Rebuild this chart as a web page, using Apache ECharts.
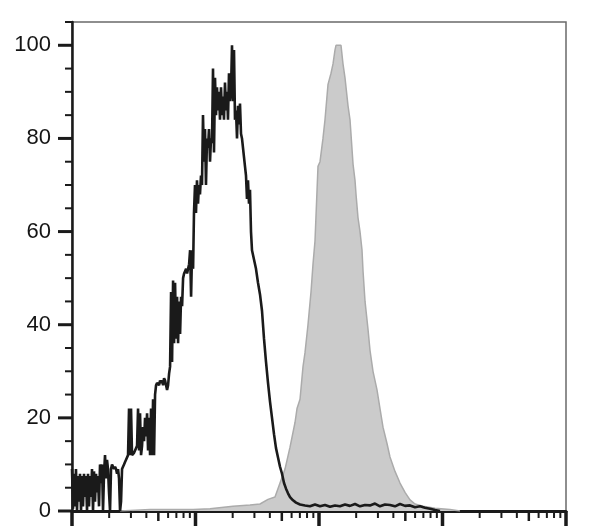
<!DOCTYPE html>
<html><head><meta charset="utf-8">
<script src="https://cdn.jsdelivr.net/npm/echarts@6/dist/echarts.min.js"></script>
<style>html,body{margin:0;padding:0;background:#fff}#c{width:590px;height:529px}</style>
</head><body><div id="c"></div>
<script>
// Black (unfilled) histogram: channel values and % of max
const blackX = [1.000,1.019,1.038,1.058,1.077,1.098,1.118,1.139,1.161,1.183,1.205,1.228,1.251,1.274,1.298,1.323,1.348,1.373,1.399,1.425,1.452,1.480,1.507,1.536,1.565,1.594,1.624,1.655,1.686,1.718,1.750,1.783,1.817,1.851,1.886,1.921,1.957,1.994,2.032,2.070,2.109,2.149,2.189,2.231,2.273,2.315,2.359,2.403,2.449,2.495,2.542,2.589,2.638,2.688,2.739,2.790,2.843,2.896,2.951,3.006,3.063,3.121,3.180,3.240,3.301,3.363,3.426,3.491,3.556,3.623,3.692,3.761,3.832,3.904,3.978,4.053,4.129,4.207,4.286,4.367,4.449,4.533,4.618,4.705,4.794,4.884,4.976,5.070,5.165,5.262,5.362,5.463,5.565,5.670,5.777,5.886,5.997,6.110,6.225,6.342,6.461,6.583,6.707,6.833,6.962,7.093,7.227,7.363,7.502,7.643,7.787,7.934,8.083,8.235,8.390,8.548,8.709,8.874,9.041,9.211,9.384,9.561,9.72,9.907,10.09,10.28,10.48,10.67,10.87,11.08,11.29,11.50,11.72,11.94,12.16,12.39,12.63,12.86,13.11,13.35,13.60,13.86,14.12,14.39,14.66,14.93,15.21,15.50,15.79,16.09,16.39,16.70,17.01,17.33,17.66,17.99,18.33,18.67,19.02,19.38,19.75,20.12,20.50,20.88,21.28,21.68,22.08,22.50,22.92,23.36,23.79,24.24,24.70,25.16,25.64,26.12,26.61,27.11,27.62,28.14,28.67,29.76,30.89,32.07,33.29,34.55,35.87,37.23,38.65,40.11,41.64,43.22,44.86,46.57,48.34,50.18,52.08,54.07,56.12,58.25,61.58,65.14,70.20,77.02,84.56,92.82,101.9,111.8,122.8,134.8,147.9,162.4,178.3,195.7,214.8,235.9,258.8,284.0,311.8,342.3,375.7,412.5,452.8,497.2,545.8,599.0,657.5,721.8,792.3,869.8,954.6];
const blackY = [9,0.5,8,1,9,0,7.5,2,8,0,7.5,1,8,3,7.5,0,8,1,7.5,3,9,0,8.5,2,8,4,7.5,1,10,6,10,0,8,12,7,11,9,4,0,9,10,9.5,9,9.5,9,8,9,7,0,2,9,9.5,10,10.5,11,11,12,22,12,22,12,12,12.5,13,13,14,22,13,21,12,14,18,15,20,16,21,13,20,12,22,12,24,12,25,27,27.5,27.5,27,28,27.5,28,27,28.5,28,27,26,27,29.5,31,47,32,49.5,36,49,37,46,36,45,38,46,44,50,51,51.5,52,51,52,53,56,46,56,52,64,70,64,71,66,70,68,72,70,85,75,82,70,80,78,82,75,80,79,95,77,93,85,91,86,90,84,91,85,89,84,92,86,90,84,94,88,90,100,88,99,84,86,80,87,83,87.5,81,80,78,76,74,72,67,71,66,69,60,56,54,52,49,46.5,43,37,32,27.5,23.5,20,16.5,13.5,11.5,9.5,8,6,4.8,3.8,3,2.3,1.8,1.4,1.2,1.0,1.4,1.0,1.3,0.9,1.2,1.0,1.4,1.1,1.5,1.0,1.3,1.2,1.6,1.0,1.4,1.3,1.0,1.5,1.1,1.2,0.8,1.0,0.7,0.5,0.2,0];
// Gray (filled) histogram
const grayX = [2.449,4.286,9.56,13.11,20.12,27.62,33.29,38.65,44.03,48.34,53.06,58.25,63.94,66.37,70.20,74.22,77.02,81.44,86.13,89.43,92.82,98.15,101.9,107.7,111.8,118.3,125.1,129.85,134.8,137.3,142.5,150.7,156.4,162.4,171.8,178.3,188.6,195.7,199.4,206.9,214.8,223.0,227.2,235.9,249.4,258.8,273.7,294.9,311.8,329.8,355.3,375.7,412.5,452.8,497.2,545.8,599.0,695.3,869.8,1150,1386];
const grayY = [0,0.3,0.3,0.5,1,1.3,1.5,2.5,3,6,9,13.7,19,22,24,31,34,40,47,53,58,74,75,80,84,91.6,94,96,99,100,100,100,96,93,87,84,74.5,71,68,63,60,56,51.6,45,39,34.5,30,26,22,18,14.5,11.6,8.5,6,4,2.4,1.5,1,0.6,0.3,0];
// Axis ticks
const yLabels = [0,20,40,60,80,100];
const yMinorTicks = [5,10,15,25,30,35,45,50,55,65,70,75,85,90,95,105];
const xMajorTicks = [1,10,100,1000,10000];
const xMidTicks = [5,50,500,5000];
const xMinorTicks = [2,3,4,6,7,8,9,20,30,40,60,70,80,90,200,300,400,600,700,800,900,2000,3000,4000,6000,7000,8000,9000];

const X_MIN = 1, X_MAX = 10000, Y_MIN = 0, Y_MAX = 105;
const INK = '#1a1a1a';

function zip(xs, ys) { return xs.map((x, i) => [x, ys[i]]); }

function tickSeries(values, axis, len, width) {
  return {
    type: 'custom', silent: true, clip: false, z: 10,
    data: values.map(v => axis === 'x' ? [v, Y_MIN] : [X_MIN, v]),
    renderItem: function (params, api) {
      const p = api.coord([api.value(0), api.value(1)]);
      const shape = axis === 'x'
        ? { x1: p[0], y1: p[1], x2: p[0], y2: p[1] + len }
        : { x1: p[0] - len, y1: p[1], x2: p[0], y2: p[1] };
      return { type: 'line', shape: shape, style: { stroke: INK, lineWidth: width } };
    }
  };
}

const chart = echarts.init(document.getElementById('c'), null, { renderer: 'canvas' });
chart.setOption({
  animation: false,
  backgroundColor: '#ffffff',
  grid: { left: 72, right: 24, top: 22, bottom: 18, show: true, borderColor: '#6a6a6a', borderWidth: 1.5, backgroundColor: 'transparent' },
  xAxis: {
    type: 'log', min: X_MIN, max: X_MAX, logBase: 10,
    axisLine: { show: true, onZero: false, lineStyle: { color: INK, width: 3 } },
    axisTick: { show: false }, axisLabel: { show: false }, splitLine: { show: false }, minorTick: { show: false }
  },
  yAxis: {
    type: 'value', min: Y_MIN, max: Y_MAX, interval: 20,
    axisLine: { show: true, lineStyle: { color: INK, width: 2.5 } },
    axisTick: { show: false }, splitLine: { show: false },
    axisLabel: {
      margin: 21, fontSize: 22, fontFamily: 'Liberation Sans', color: '#151515',
      formatter: function (v) { return yLabels.indexOf(v) >= 0 ? String(v) : ''; }
    }
  },
  series: [
    {
      type: 'line', data: zip(grayX, grayY), showSymbol: false, z: 2,
      lineStyle: { color: '#ababab', width: 1.5 },
      areaStyle: { color: '#cbcbcb', opacity: 1 }
    },
    {
      type: 'line', data: zip(blackX, blackY), showSymbol: false, z: 3,
      lineStyle: { color: INK, width: 2.6 }
    },
    tickSeries(yLabels, 'y', 14, 3),
    tickSeries(yMinorTicks, 'y', 7, 2),
    tickSeries(xMajorTicks, 'x', 15, 3.5),
    tickSeries(xMidTicks, 'x', 10, 2.5),
    tickSeries(xMinorTicks, 'x', 7, 2)
  ]
});
</script>
</body></html>
